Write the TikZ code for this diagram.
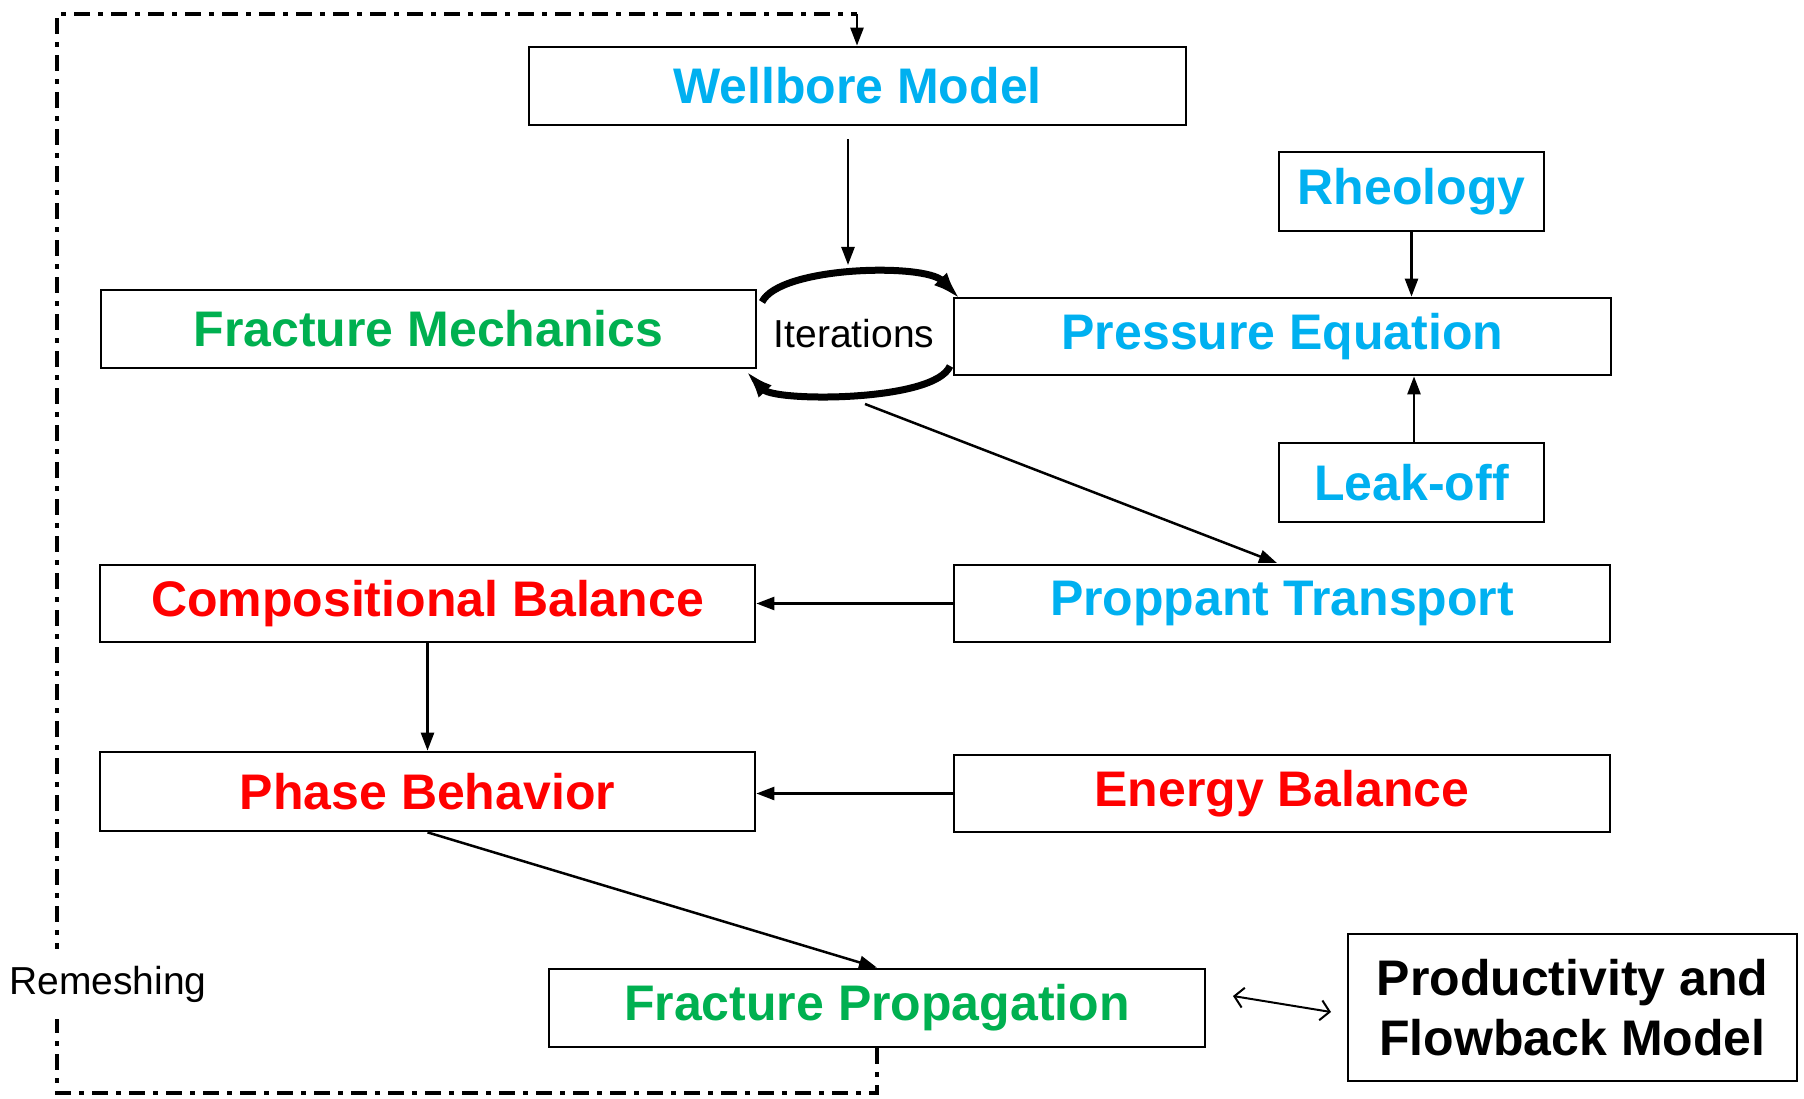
\documentclass[tikz,border=0pt]{standalone}
\usepackage{fontspec}
\setmainfont{Liberation Sans}
\usetikzlibrary{arrows.meta}
\definecolor{cblue}{HTML}{00B0F0}
\definecolor{cgreen}{HTML}{00B050}
\definecolor{cred}{HTML}{FF0000}
\tikzset{
  boxn/.style={draw, line width=2.7pt, inner sep=0pt, font=\fontsize{50}{60}\selectfont\bfseries, align=center},
  arr/.style={line width=2.5pt, -{Triangle[length=18pt,width=13pt]}},
  dbl/.style={line width=2pt, {Straight Barb[length=9pt,width=20pt,line width=2pt]}-{Straight Barb[length=9pt,width=20pt,line width=2pt]}},
  iter/.style={line width=7pt, -{Latex[length=28pt,width=18pt]}},
  frame/.style={line width=4.2pt, dash pattern=on 16pt off 8pt on 5pt off 8pt},
  plain/.style={font=\fontsize{39}{46}\selectfont, inner sep=0pt}
}
\begin{document}
\begin{tikzpicture}[x=1pt,y=-1pt]
\useasboundingbox (0,0) rectangle (1804,1099);
% boxes
\node[boxn, text=cblue, minimum width=657pt, minimum height=78pt] (wb) at (857.5,86) {Wellbore Model};
\node[boxn, text=cblue, minimum width=265pt, minimum height=79pt] (rh) at (1411.5,191.5) {Rheology};
\node[boxn, text=cgreen, minimum width=655pt, minimum height=78pt] (fm) at (428.5,329) {Fracture Mechanics};
\node[boxn, text=cblue, minimum width=657pt, minimum height=77pt] (pe) at (1282.5,336.5) {Pressure Equation};
\node[boxn, text=cblue, minimum width=265pt, minimum height=79pt] (lo) at (1411.5,482.5) {Leak-off};
\node[boxn, text=cred, minimum width=655pt, minimum height=77pt] (cb) at (427.5,603.5) {Compositional Balance};
\node[boxn, text=cblue, minimum width=656pt, minimum height=77pt] (pt) at (1282,603.5) {Proppant Transport};
\node[boxn, text=cred, minimum width=655pt, minimum height=79pt] (phb) at (427.5,791.5) {Phase Behavior};
\node[boxn, text=cred, minimum width=656pt, minimum height=77pt] (eb) at (1282,793.5) {Energy Balance};
\node[boxn, text=cgreen, minimum width=656pt, minimum height=78pt] (fp) at (877,1008) {Fracture Propagation};
\node[boxn, text=black, minimum width=449pt, minimum height=147pt] (pf) at (1572.5,1007.5) {Productivity and\\Flowback Model};
% iterations
\node[plain] (it) at (854,334) {Iterations};
\draw[iter] (762,302) .. controls (780,266) and (925,263) .. (960,299);
\draw[iter] (950,366) .. controls (935,402) and (775,402) .. (746,371);
% connectors
\coordinate (itop) at (848,265);
\draw[arr, shorten <=13pt] (wb.south -| itop) -- (itop);
\draw[arr] (rh.south) -- (rh.south |- pe.north);
\coordinate (lox) at (1414,0);
\draw[arr] (lo.north -| lox) -- (pe.south -| lox);
\coordinate (itout) at (865,404);
\coordinate (ptin) at (1277,563);
\draw[arr] (itout) -- (ptin);
\draw[arr] (pt.west) -- (cb.east);
\draw[arr] (cb.south) -- (phb.north);
\draw[arr] (eb.west) -- (phb.east |- eb.west);
\draw[arr] (phb.south) -- (fp.north);
\coordinate (da) at (1233,996);
\coordinate (db) at (1331,1012);
\draw[dbl] (da) -- (db);
% remeshing loop
\coordinate (fpx) at (877,1093);
\coordinate (bl) at (57,1093);
\coordinate (tl) at (57,14);
\coordinate (tr) at (857,14);
\draw[frame] (fp.south) -- (fpx) -- (bl) -- (tl) -- (tr);
\draw[arr] (tr) -- (wb.north -| tr);
\node[plain, fill=white, inner ysep=17pt, inner xsep=0pt] (rm) at (108,984) {Remeshing};
\end{tikzpicture}
\end{document}
